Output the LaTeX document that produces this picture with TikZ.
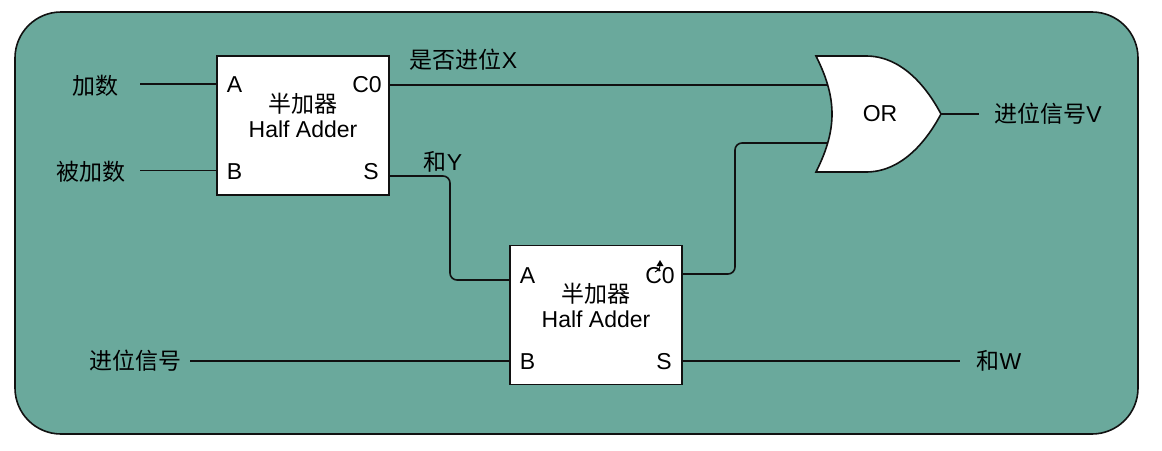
\documentclass[tikz,border=0pt]{standalone}
\usepackage{fontspec}
\setmainfont{Liberation Sans}
\newfontfamily\cjk{Noto Sans CJK SC}
\usetikzlibrary{calc}
\definecolor{panelgreen}{HTML}{6AA99C}
\definecolor{inkline}{HTML}{111111}
\tikzset{
  wire/.style={draw=inkline,line width=1.6pt,rounded corners=7pt},
  thinwire/.style={draw=inkline,line width=1pt},
  adder/.style={draw=inkline,fill=white,line width=1.6pt,minimum width=172pt,minimum height=139pt,inner sep=0pt,outer sep=0pt},
  lbl/.style={inner sep=0pt,font=\fontsize{23}{27}\selectfont,text=black},
  mid/.style={inner sep=0pt,align=center,font=\fontsize{23}{26}\selectfont,text=black}
}
\begin{document}
\begin{tikzpicture}[x=1pt,y=-1pt]
\useasboundingbox (0,0) rectangle (1162,450);
\fill[white] (0,0) rectangle (1162,450);
\path[fill=panelgreen,draw=inkline,line width=1.6pt,rounded corners=46pt] (15,12) rectangle (1138,434);

\node[adder] (ha1) at (303,125.5) {};
\node[adder] (ha2) at (596,315) {};
\node[mid] (ha1t) at (303,115.5) {{\cjk 半加器}\\[-1pt]Half Adder};
\node[mid] (ha2t) at (596,305) {{\cjk 半加器}\\[-1pt]Half Adder};

\node[lbl] (a1) at (234.5,85) {A};
\node[lbl] (b1) at (234.5,172) {B};
\node[lbl] (c1) at (367,85) {C0};
\node[lbl] (s1) at (371,172) {S};
\node[lbl] (a2) at (527.5,276) {A};
\node[lbl] (b2) at (527.5,362) {B};
\node[lbl] (c2) at (660,276) {C0};
\node[lbl] (s2) at (664,362) {S};

\node[lbl] (in1) at (95,86) {\cjk 加数};
\node[lbl] (in2) at (91,172) {\cjk 被加数};
\node[lbl] (in3) at (135,361) {\cjk 进位信号};
\node[lbl] (carryx) at (463.5,60) {{\cjk 是否进位}X};
\node[lbl] (sumy) at (443,162) {{\cjk 和}Y};
\node[lbl] (sumw) at (999,361) {{\cjk 和}W};
\node[lbl] (outv) at (1048,114) {{\cjk 进位信号}V};

% wires
\coordinate (w1s) at (140,84);
\coordinate (w1e) at (217,84);
\coordinate (w2s) at (140,170);
\coordinate (w2e) at (217,170);
\coordinate (w3s) at (190,361);
\coordinate (w3e) at (510,361);
\coordinate (w4e) at (960,361);
\coordinate (c1o) at (389,85);
\coordinate (s1o) at (389,176);
\coordinate (a2i) at (510,280);
\coordinate (c2o) at (682,274);
\coordinate (ori1) at (829,85);
\coordinate (ori2) at (827,143);
\coordinate (orout) at (941,114);
\coordinate (outend) at (979,114);

\draw[wire] (w1s) -- (w1e);
\draw[thinwire] (w2s) -- (w2e);
\draw[wire] (w3s) -- (w3e);
\draw[wire] (ha2.east |- w3e) -- (w4e);
\draw[wire] (c1o) -- (ori1);
\draw[wire] (s1o) -| (450,280) -- (a2i);
\draw[wire] (c2o) -| (735,143) -- (ori2);
\draw[wire] (orout) -- (outend);

% OR gate
\path[draw=inkline,fill=white,line width=1.6pt,line join=miter]
  (816,56) -- (866,56)
  .. controls (900,56) and (925,84) .. (orout)
  .. controls (925,144) and (900,172) .. (866,172)
  -- (816,172)
  .. controls (827,150) and (832,132) .. (832,114)
  .. controls (832,96) and (827,78) .. (816,56) -- cycle;
\node[lbl] (orl) at (880,114) {OR};

% small cursor mark over C0
\fill[black] (660,260) -- (663.5,266) -- (656.5,266) -- cycle;
\draw[black,line width=1pt] (660,265) .. controls (660,269) and (658,271) .. (655,272);
\end{tikzpicture}
\end{document}
